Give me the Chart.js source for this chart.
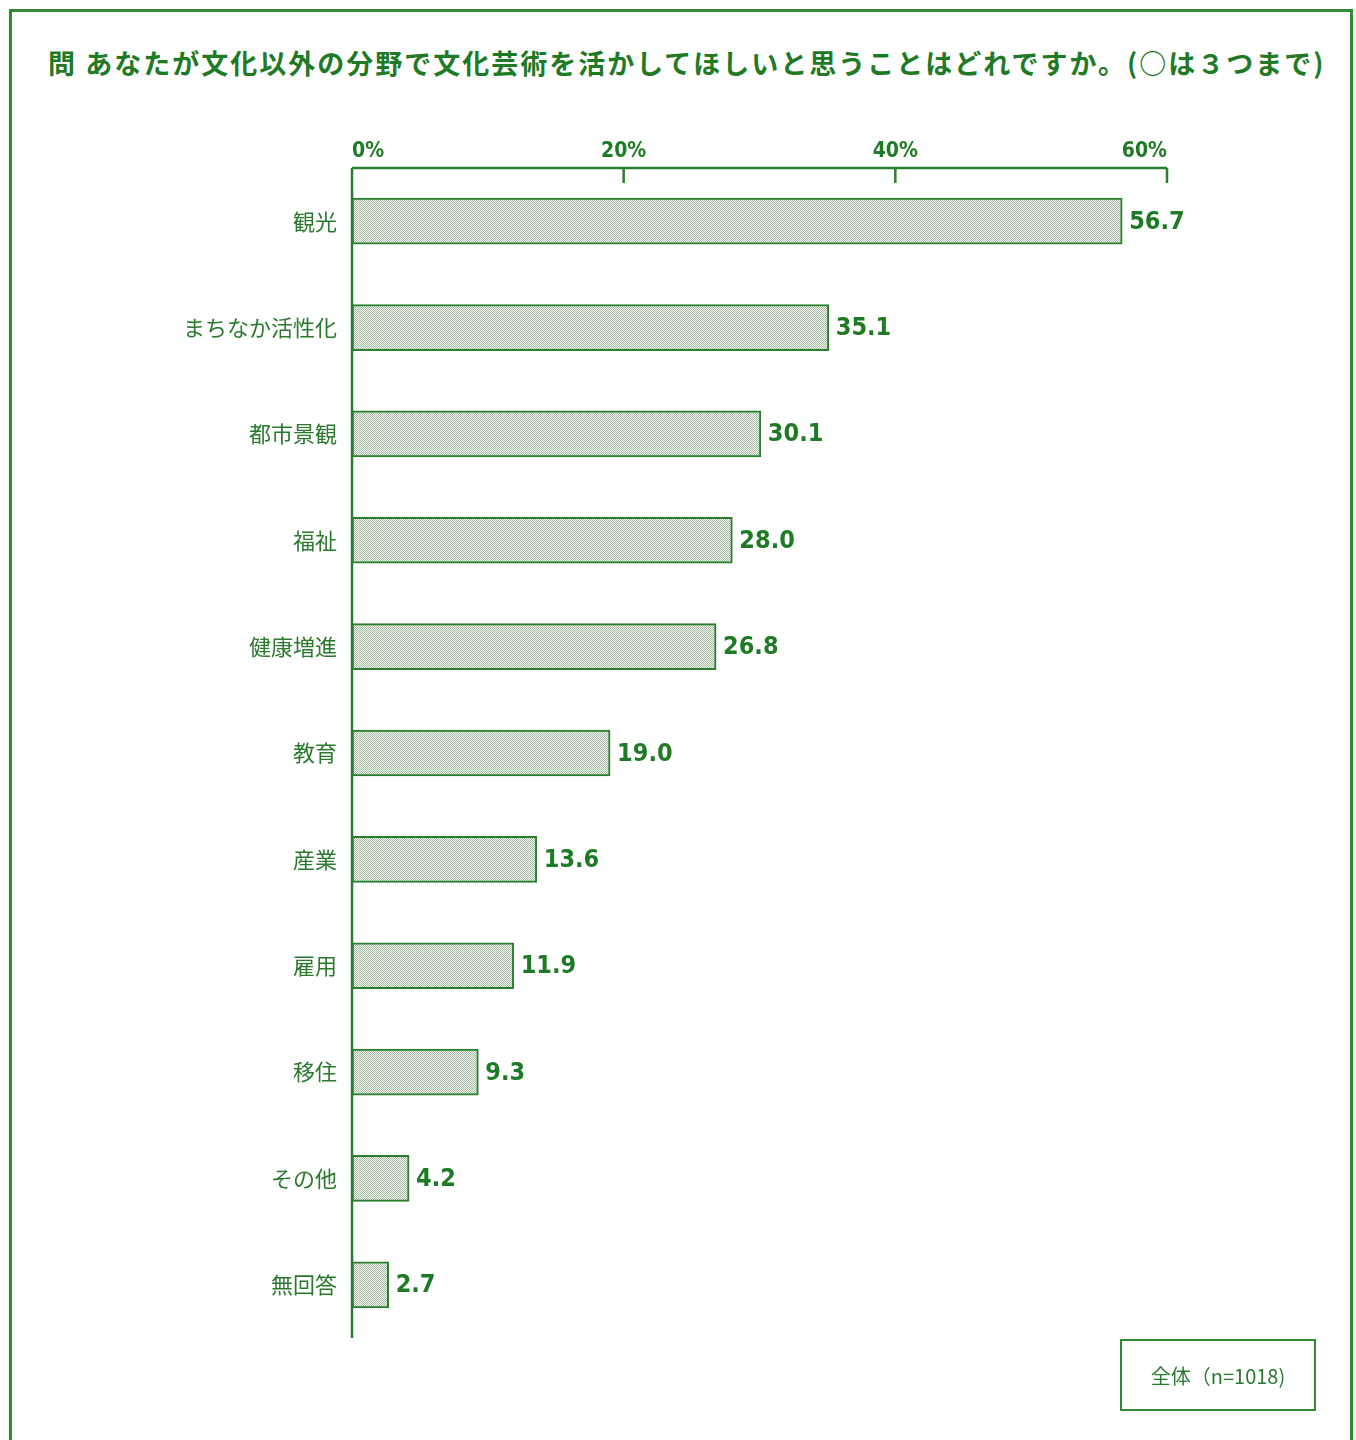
<!DOCTYPE html>
<html lang="ja">
<head>
<meta charset="utf-8">
<script src="https://cdn.jsdelivr.net/npm/chart.js@4"></script>
<style>
  body { margin: 0; background: #fff; }
  #page { position: relative; width: 1356px; height: 1440px; overflow: hidden; }
  #frame { position: absolute; left: 9px; top: 9px; width: 1338px; height: 1450px; border: 3px solid #2f8a33; }
  #title { position: absolute; left: 48px; top: 43px; font-family: "Noto Sans CJK JP", sans-serif; font-weight: bold;
           font-size: 27px; color: #1f7a25; white-space: nowrap; letter-spacing: 2px; }
  #chartBox { position: absolute; left: 0; top: 0; width: 1356px; height: 1440px; }
  #legendBox { position: absolute; left: 1120px; top: 1339px; width: 192px; height: 68px; border: 2px solid #2f8a33;
               font-family: "Noto Sans CJK JP", sans-serif; font-size: 20px; color: #2a7a2e;
               display: flex; align-items: center; justify-content: center; }
</style>
</head>
<body>
<div id="page">
  <div id="frame"></div>
  <div id="title">問 あなたが文化以外の分野で文化芸術を活かしてほしいと思うことはどれですか。(○は３つまで)</div>
  <div id="chartBox"><canvas id="chart"></canvas></div>
  <div id="legendBox">全体（n=1018)</div>
</div>
<script>
// Data
const categories = ['観光', 'まちなか活性化', '都市景観', '福祉', '健康増進', '教育', '産業', '雇用', '移住', 'その他', '無回答'];
const values = [56.7, 35.1, 30.1, 28.0, 26.8, 19.0, 13.6, 11.9, 9.3, 4.2, 2.7];
const tickValues = [0, 20, 40, 60];

const green = '#2a7f2e';
const darkGreen = '#1f7a25';

// Dotted fill for the bars
function makePattern() {
  const p = document.createElement('canvas');
  p.width = 2;
  p.height = 2;
  const c = p.getContext('2d');
  c.fillStyle = '#f4f7f2';
  c.fillRect(0, 0, 2, 2);
  c.fillStyle = '#a3bca1';
  c.fillRect(0, 0, 1, 1);
  c.fillRect(1, 1, 1, 1);
  return document.getElementById('chart').getContext('2d').createPattern(p, 'repeat');
}

// Axis lines and inward tick marks
const axisPlugin = {
  id: 'axisLines',
  afterDatasetsDraw(chart) {
    const ctx = chart.ctx;
    const x = chart.scales.x;
    const area = chart.chartArea;
    ctx.save();
    ctx.strokeStyle = green;
    ctx.lineWidth = 2.5;
    ctx.beginPath();
    ctx.moveTo(area.left, area.top);
    ctx.lineTo(area.right, area.top);
    ctx.moveTo(area.left, area.top);
    ctx.lineTo(area.left, area.bottom);
    tickValues.slice(1).forEach(v => {
      const px = x.getPixelForValue(v);
      ctx.moveTo(px, area.top);
      ctx.lineTo(px, area.top + 15);
    });
    ctx.stroke();
    ctx.restore();
  }
};

// Value labels at bar ends
const valueLabels = {
  id: 'valueLabels',
  afterDatasetsDraw(chart) {
    const ctx = chart.ctx;
    const meta = chart.getDatasetMeta(0);
    ctx.save();
    ctx.fillStyle = darkGreen;
    ctx.font = 'bold 25px "Liberation Sans Narrow", "DejaVu Sans Condensed", sans-serif';
    ctx.textAlign = 'left';
    ctx.textBaseline = 'middle';
    meta.data.forEach((bar, i) => {
      ctx.fillText(values[i].toFixed(1), bar.x + 7, bar.y + 1);
    });
    ctx.restore();
  }
};

const chart = new Chart(document.getElementById('chart'), {
  type: 'bar',
  data: {
    labels: categories,
    datasets: [{
      data: values,
      backgroundColor: makePattern(),
      borderColor: green,
      borderWidth: 2,
      borderSkipped: false,
      barThickness: 46
    }]
  },
  options: {
    indexAxis: 'y',
    responsive: true,
    maintainAspectRatio: false,
    animation: false,
    layout: { padding: { left: 0, top: 0, right: 189, bottom: 102 } },
    plugins: { legend: { display: false }, tooltip: { enabled: false } },
    scales: {
      x: {
        position: 'top',
        min: 0,
        max: 60,
        afterFit: s => { s.height = 168; },
        afterBuildTicks: s => { s.ticks = tickValues.map(v => ({ value: v })); },
        grid: { display: false, drawTicks: false },
        border: { display: false },
        ticks: {
          align: 'inner',
          padding: 4,
          color: darkGreen,
          font: { family: '"Liberation Sans Narrow", "DejaVu Sans Condensed", sans-serif', size: 21, weight: 'bold' },
          callback: v => v + '%'
        }
      },
      y: {
        afterFit: s => { s.width = 352; },
        grid: { display: false, drawTicks: false },
        border: { display: false },
        ticks: {
          padding: 15,
          color: '#2a7a2e',
          font: { family: '"Noto Sans CJK JP", sans-serif', size: 22 }
        }
      }
    }
  },
  plugins: [axisPlugin, valueLabels]
});
</script>
</body>
</html>
